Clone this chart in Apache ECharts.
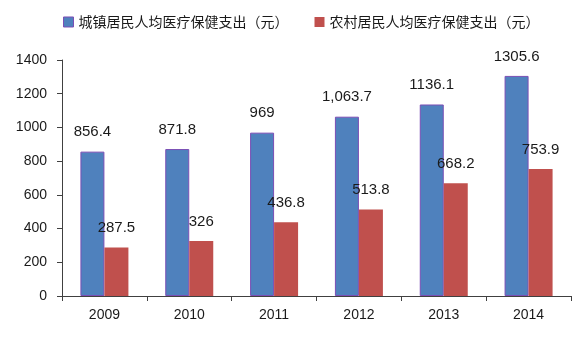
<!DOCTYPE html>
<html>
<head>
<meta charset="utf-8">
<script src="https://cdn.jsdelivr.net/npm/echarts@6/dist/echarts.min.js"></script>
<style>
html,body{margin:0;padding:0;background:#fff;}
#chart{width:584px;height:340px;}
</style>
</head>
<body>
<div id="chart"></div>
<script>
const years = ['2009', '2010', '2011', '2012', '2013', '2014'];
const urbanName = '城镇居民人均医疗保健支出（元）';
const ruralName = '农村居民人均医疗保健支出（元）';
const urbanValues = [856.4, 871.8, 969, 1063.7, 1136.1, 1305.6];
const ruralValues = [287.5, 326, 436.8, 513.8, 668.2, 753.9];
const urbanLabels = ['856.4', '871.8', '969', '1,063.7', '1136.1', '1305.6'];
const ruralLabels = ['287.5', '326', '436.8', '513.8', '668.2', '753.9'];

const FONT = '"Liberation Sans", Arial, "Noto Sans CJK SC", sans-serif';
const CJK = '"Noto Sans CJK SC", "Liberation Sans", sans-serif';
const chart = echarts.init(document.getElementById('chart'), null, {renderer: 'canvas'});
chart.setOption({
  animation: false,
  backgroundColor: '#fff',
  textStyle: {fontFamily: FONT},
  legend: {
    left: 58,
    top: 10,
    itemWidth: 10,
    itemHeight: 10,
    itemGap: 26,
    textStyle: {fontFamily: CJK, fontSize: 14, color: '#1a1a1a'},
    data: [
      {name: urbanName, icon: 'rect', itemStyle: {color: '#4F81BD', borderColor: '#7B4FB5', borderWidth: 1}},
      {name: ruralName, icon: 'rect', itemStyle: {color: '#C0504D', borderWidth: 0}}
    ]
  },
  grid: {left: 62, right: 13, top: 60, bottom: 44, containLabel: false},
  xAxis: {
    type: 'category',
    data: years,
    boundaryGap: true,
    axisLine: {lineStyle: {color: '#404040', width: 1}},
    axisTick: {show: true, length: 5, alignWithLabel: false, lineStyle: {color: '#404040'}},
    axisLabel: {fontFamily: FONT, fontSize: 14, color: '#1a1a1a', margin: 12}
  },
  yAxis: {
    type: 'value',
    min: 0,
    max: 1400,
    interval: 200,
    axisLine: {show: true, lineStyle: {color: '#404040', width: 1}},
    axisTick: {show: true, length: 5, lineStyle: {color: '#404040'}},
    splitLine: {show: false},
    axisLabel: {fontFamily: FONT, fontSize: 14, color: '#1a1a1a', margin: 15, formatter: v => String(v)}
  },
  series: [
    {
      name: urbanName,
      type: 'bar',
      data: urbanValues,
      barWidth: 24,
      barGap: '0%',
      itemStyle: {color: '#4F81BD', borderColor: '#7B4FB5', borderWidth: 1},
      label: {
        show: true, position: 'top', distance: 12,
        fontFamily: FONT, fontSize: 15, color: '#1a1a1a',
        formatter: p => urbanLabels[p.dataIndex]
      }
    },
    {
      name: ruralName,
      type: 'bar',
      data: ruralValues,
      barWidth: 24,
      barGap: '0%',
      itemStyle: {color: '#C0504D'},
      label: {
        show: true, position: 'top', distance: 12,
        fontFamily: FONT, fontSize: 15, color: '#1a1a1a',
        formatter: p => ruralLabels[p.dataIndex]
      }
    }
  ]
});
</script>
</body>
</html>
